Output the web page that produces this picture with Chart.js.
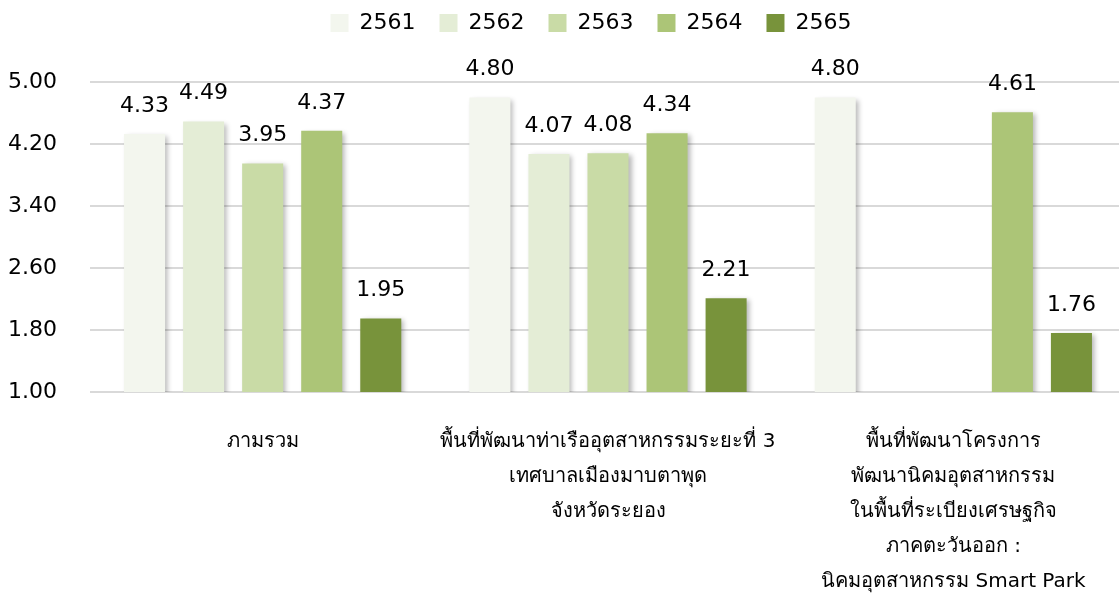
<!DOCTYPE html>
<html>
<head>
<meta charset="utf-8">
<script src="https://cdn.jsdelivr.net/npm/chart.js@4"></script>
<style>
html,body{margin:0;padding:0;background:#fff;overflow:hidden;}
#wrap{width:1126px;height:597px;position:relative;}
</style>
</head>
<body>
<div id="wrap"><canvas id="c"></canvas></div>
<script>
const categories = [
  ["ภามรวม"],
  ["พื้นที่พัฒนาท่าเรืออุตสาหกรรมระยะที่ 3", "เทศบาลเมืองมาบตาพุด", "จังหวัดระยอง"],
  ["พื้นที่พัฒนาโครงการ", "พัฒนานิคมอุตสาหกรรม", "ในพื้นที่ระเบียงเศรษฐกิจ", "ภาคตะวันออก :", "นิคมอุตสาหกรรม Smart Park"]
];
const seriesNames = ["2561", "2562", "2563", "2564", "2565"];
const values2561 = [4.33, 4.80, 4.80];
const values2562 = [4.49, 4.07, null];
const values2563 = [3.95, 4.08, null];
const values2564 = [4.37, 4.34, 4.61];
const values2565 = [1.95, 2.21, 1.76];
const yTicks = [1.00, 1.80, 2.60, 3.40, 4.20, 5.00];

const colors = ["#F3F6EE", "#E4EDD6", "#C9DBA6", "#ACC577", "#78933B"];
const FONT = "'DejaVu Sans', 'Noto Sans', sans-serif";

const allValues = [values2561, values2562, values2563, values2564, values2565];
const datasets = seriesNames.map((n, i) => ({
  label: n,
  data: allValues[i],
  backgroundColor: colors[i],
  borderWidth: 0,
  categoryPercentage: 0.855,
  barPercentage: 0.695
}));

const shadowPlugin = {
  id: 'shadow',
  beforeDatasetsDraw(chart) {
    const ctx = chart.ctx;
    ctx.save();
    ctx.shadowColor = 'rgba(0,0,0,0.28)';
    ctx.shadowBlur = 5;
    ctx.shadowOffsetX = 3;
    ctx.shadowOffsetY = 2;
  },
  afterDatasetsDraw(chart) {
    chart.ctx.restore();
  }
};

const labelPlugin = {
  id: 'valueLabels',
  afterDatasetsDraw(chart) {
    const ctx = chart.ctx;
    ctx.save();
    ctx.font = "22px " + FONT;
    ctx.fillStyle = "#000";
    ctx.textAlign = "center";
    ctx.textBaseline = "middle";
    chart.data.datasets.forEach((ds, di) => {
      const meta = chart.getDatasetMeta(di);
      meta.data.forEach((el, i) => {
        const v = ds.data[i];
        if (v === null || v === undefined) return;
        ctx.fillText(v.toFixed(2), el.x, el.y - 28);
      });
    });
    ctx.restore();
  }
};

const legendShift = {
  id: 'legendShift',
  afterLayout(chart) {
    const lg = chart.legend;
    if (lg) { lg.left += 24; lg.right += 24; lg.top -= 38; lg.bottom -= 38; }
  }
};

new Chart(document.getElementById('c'), {
  type: 'bar',
  data: { labels: categories, datasets },
  options: {
    responsive: true,
    maintainAspectRatio: false,
    animation: false,
    layout: { padding: { top: 26, bottom: 0, left: 8, right: 0 } },
    plugins: {
      legend: {
        position: 'top',
        labels: {
          boxWidth: 18, boxHeight: 18, padding: 24,
          color: '#000',
          font: { family: FONT, size: 22 }
        }
      },
      tooltip: { enabled: false }
    },
    scales: {
      x: {
        grid: { display: false, drawTicks: false },
        border: { display: false },
        afterFit(axis) { axis.height = 205; },
        ticks: {
          color: '#000',
          font: { family: FONT, size: 20, lineHeight: 1.75 },
          maxRotation: 0, autoSkip: false, padding: 32
        }
      },
      y: {
        min: 1, max: 5,
        afterBuildTicks(axis) { axis.ticks = yTicks.map(v => ({ value: v })); },
        grid: { color: '#D9D9D9', lineWidth: 2, drawTicks: false },
        border: { display: false },
        afterFit(axis) { axis.width = 82; },
        ticks: {
          color: '#000',
          padding: 33,
          font: { family: FONT, size: 22 },
          callback: v => Number(v).toFixed(2)
        }
      }
    }
  },
  plugins: [shadowPlugin, labelPlugin, legendShift]
});
</script>
</body>
</html>
